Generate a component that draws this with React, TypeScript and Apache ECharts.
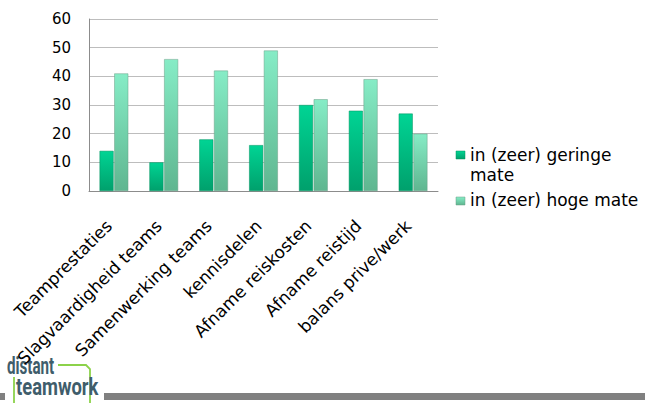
import React, { useEffect, useRef } from "react";
import * as echarts from "echarts";

const categories = [
  "Teamprestaties",
  "Slagvaardigheid teams",
  "Samenwerking teams",
  "kennisdelen",
  "Afname reiskosten",
  "Afname reistijd",
  "balans prive/werk",
];
const seriesNames = ["in (zeer) geringe mate", "in (zeer) hoge mate"];
const lowValues = [14, 10, 18, 16, 30, 28, 27];
const highValues = [41, 46, 42, 49, 32, 39, 20];
const yTicks = { min: 0, max: 60, interval: 10 };

const FONT = "DejaVu Sans";

export default function App() {
  const ref = useRef<HTMLDivElement>(null);
  useEffect(() => {
    document.body.style.margin = "0";
    const chart = echarts.init(ref.current!, null, { renderer: "svg" });
    const grad = (top: string, bottom: string) =>
      new echarts.graphic.LinearGradient(0, 0, 0, 1, [
        { offset: 0, color: top },
        { offset: 1, color: bottom },
      ]);
    const lowColor = grad("#00d494", "#00a06c");
    const highColor = grad("#86ecc6", "#5fb690");
    chart.setOption({
      animation: false,
      grid: { left: 89, right: 207, top: 19, bottom: 212 },
      xAxis: {
        type: "category",
        data: categories,
        axisLine: { lineStyle: { color: "#8c8c8c", width: 1 } },
        axisTick: { show: false },
        axisLabel: {
          rotate: 45,
          interval: 0,
          margin: 27,
          padding: [0, 7, 0, 0],
          color: "#000",
          fontFamily: FONT,
          fontSize: 17,
        },
      },
      yAxis: {
        type: "value",
        min: yTicks.min,
        max: yTicks.max,
        interval: yTicks.interval,
        axisLine: { show: true, lineStyle: { color: "#8c8c8c" } },
        axisTick: { show: false },
        splitLine: { lineStyle: { color: "#bdbdbd" } },
        axisLabel: {
          color: "#000",
          fontFamily: FONT,
          fontSize: 15,
          margin: 18,
        },
      },
      legend: { show: false, data: seriesNames },
      series: [
        {
          name: seriesNames[0],
          type: "bar",
          data: lowValues,
          barWidth: 14,
          barGap: "5%",
          itemStyle: {
            color: lowColor,
            borderColor: "#00905f",
            borderWidth: 0.5,
          },
        },
        {
          name: seriesNames[1],
          type: "bar",
          data: highValues,
          barWidth: 14,
          itemStyle: {
            color: highColor,
            borderColor: "#6a9e86",
            borderWidth: 0.5,
          },
        },
      ],
      graphic: [
        // legend
        { type: "rect", shape: { x: 456, y: 151, width: 9, height: 8 }, style: { fill: lowColor, stroke: "#00905f", lineWidth: 0.5 } },
        { type: "text", left: 470, top: 145, style: { text: "in (zeer) geringe\nmate", fill: "#000", font: `17px '${FONT}'`, lineHeight: 20 } },
        { type: "rect", shape: { x: 456, y: 197, width: 9, height: 8 }, style: { fill: highColor, stroke: "#6a9e86", lineWidth: 0.5 } },
        { type: "text", left: 470, top: 191, style: { text: "in (zeer) hoge mate", fill: "#000", font: `17px '${FONT}'` } },
        // footer
        { type: "rect", shape: { x: 0, y: 393, width: 5, height: 7 }, style: { fill: "#808080" } },
        { type: "rect", shape: { x: 104, y: 393, width: 541, height: 7 }, style: { fill: "#808080" } },
        {
          type: "polyline",
          shape: { points: [[58, 365], [86, 365], [90, 369], [90, 403]] },
          style: { stroke: "#8cd24a", lineWidth: 1.8, fill: "none" },
        },
        {
          type: "polyline",
          shape: { points: [[14, 377], [14, 403]] },
          style: { stroke: "#8cd24a", lineWidth: 1.8, fill: "none" },
        },
        {
          type: "text",
          x: 7,
          y: 355,
          scaleX: 0.66,
          style: { text: "distant", fill: "#3f5d6b", font: "bold 23px Roboto", verticalAlign: "top" },
        },
        {
          type: "text",
          x: 16,
          y: 376,
          scaleX: 0.8,
          style: { text: "teamwork", fill: "#3f5d6b", font: "bold 23px Roboto", verticalAlign: "top" },
        },
      ],
    });
    return () => chart.dispose();
  }, []);
  return <div ref={ref} style={{ width: 645, height: 403 }} />;
}
